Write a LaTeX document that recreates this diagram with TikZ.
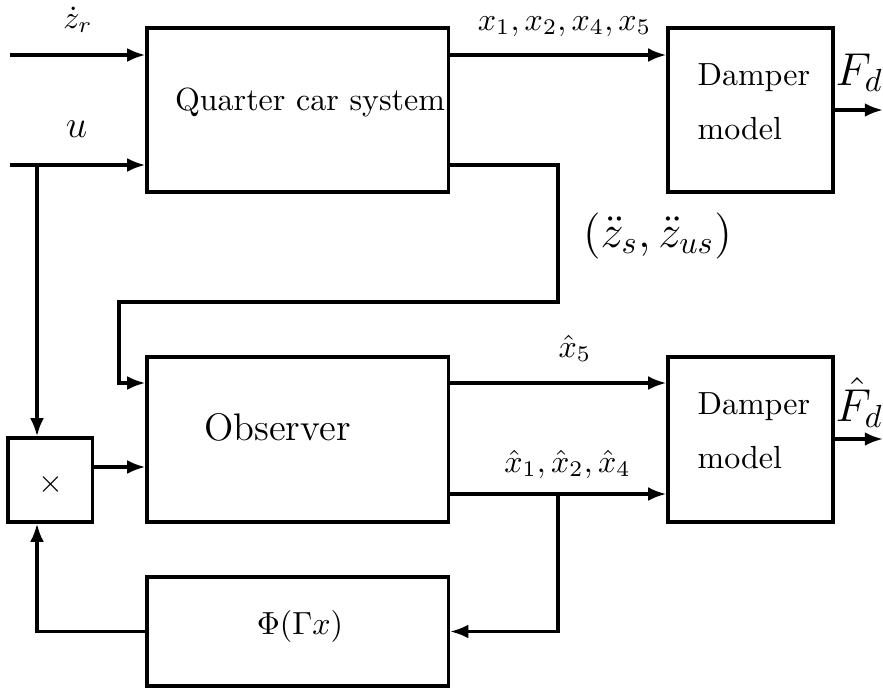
\documentclass[tikz,border=0pt]{standalone}
\usetikzlibrary{arrows.meta}
\begin{document}
\begin{tikzpicture}[x=0.3125pt,y=-0.3125pt,
  blk/.style={draw,line width=1pt,inner sep=0pt,rectangle},
  arr/.style={line width=1pt,-{Latex[length=5.7pt,width=4.3pt]}},
  lbl/.style={inner sep=0pt},
  big/.style={font=\fontsize{14}{16}\selectfont}]
\useasboundingbox (0,0) rectangle (883,689);
% boxes
\node[blk,minimum width=94.2pt,minimum height=51.25pt] (qc) at (297.75,110) {};
\node[blk,minimum width=51.56pt,minimum height=51.25pt] (dm1) at (750.5,110) {};
\node[blk,minimum width=94.2pt,minimum height=51.56pt] (obs) at (297.75,439.5) {};
\node[blk,minimum width=51.56pt,minimum height=51.56pt] (dm2) at (750.5,439.5) {};
\node[blk,minimum width=26.4pt,minimum height=26.25pt] (mul) at (50.25,480) {};
\node[blk,minimum width=94.2pt,minimum height=34.06pt] (phi) at (297.75,631.5) {};
% box texts
\node[lbl,anchor=base] (tqc) at (310,110) {Quarter car system};
\node[lbl,anchor=base,font=\large] (tobs) at (277.5,440) {Observer};
\node[lbl,anchor=north west,align=left,font=\fontsize{10}{17}\selectfont] (tdm1) at (697,63) {Damper\\model};
\node[lbl,anchor=north west,align=left,font=\fontsize{10}{17}\selectfont] (tdm2) at (697,392) {Damper\\model};
\node[lbl] (tmul) at (51,484) {$\times$};
\node[lbl,anchor=base] (tphi) at (300,634) {$\Phi(\Gamma x)$};
% coordinates
\coordinate (zin) at (10,55);
\coordinate (uin) at (10,165);
\coordinate (ub) at (37,165);
\coordinate (acc) at (558,302);
\coordinate (acl) at (119,383);
\coordinate (mo) at (92,467);
\coordinate (xb) at (558,494);
\coordinate (fd1) at (883,110);
\coordinate (fd2) at (883,439);
% connectors
\draw[arr] (zin) -- (zin -| qc.west);
\draw[arr] (uin) -- (uin -| qc.west);
\draw[arr] (ub) -- (ub |- mul.north);
\draw[arr] (qc.east |- zin) -- (dm1.west |- zin);
\draw[arr] (fd1 -| dm1.east) -- (fd1);
\draw[arr] (qc.east |- uin) -| (acc) -| (acl) -- (acl -| obs.west);
\draw[arr] (mo -| mul.east) -- (mo -| obs.west);
\draw[arr] (acl -| obs.east) -- (acl -| dm2.west);
\draw[arr] (xb -| obs.east) -- (xb -| dm2.west);
\draw[arr] (xb) |- (phi.east);
\draw[arr] (phi.west) -| (mul.south -| ub);
\draw[arr] (fd2 -| dm2.east) -- (fd2);
% labels
\node[lbl,anchor=base] (lz) at (78,28) {$\dot z_r$};
\node[lbl,anchor=base,font=\fontsize{13}{15}\selectfont] (lu) at (76.5,137) {$u$};
\node[lbl,anchor=base] (lx) at (564.5,30) {$x_1, x_2, x_4, x_5$};
\node[lbl,anchor=base,big] (lzz) at (657.5,247) {$(\ddot z_s, \ddot z_{us})$};
\node[lbl,anchor=base west,big] (lf1) at (835,85) {$F_d$};
\node[lbl,anchor=base] (lx5) at (575,357) {$\hat x_5$};
\node[lbl,anchor=base] (lx124) at (567.5,472) {$\hat x_1, \hat x_2, \hat x_4$};
\node[lbl,anchor=base west,big] (lf2) at (835,421) {$\hat F_d$};
\end{tikzpicture}
\end{document}
